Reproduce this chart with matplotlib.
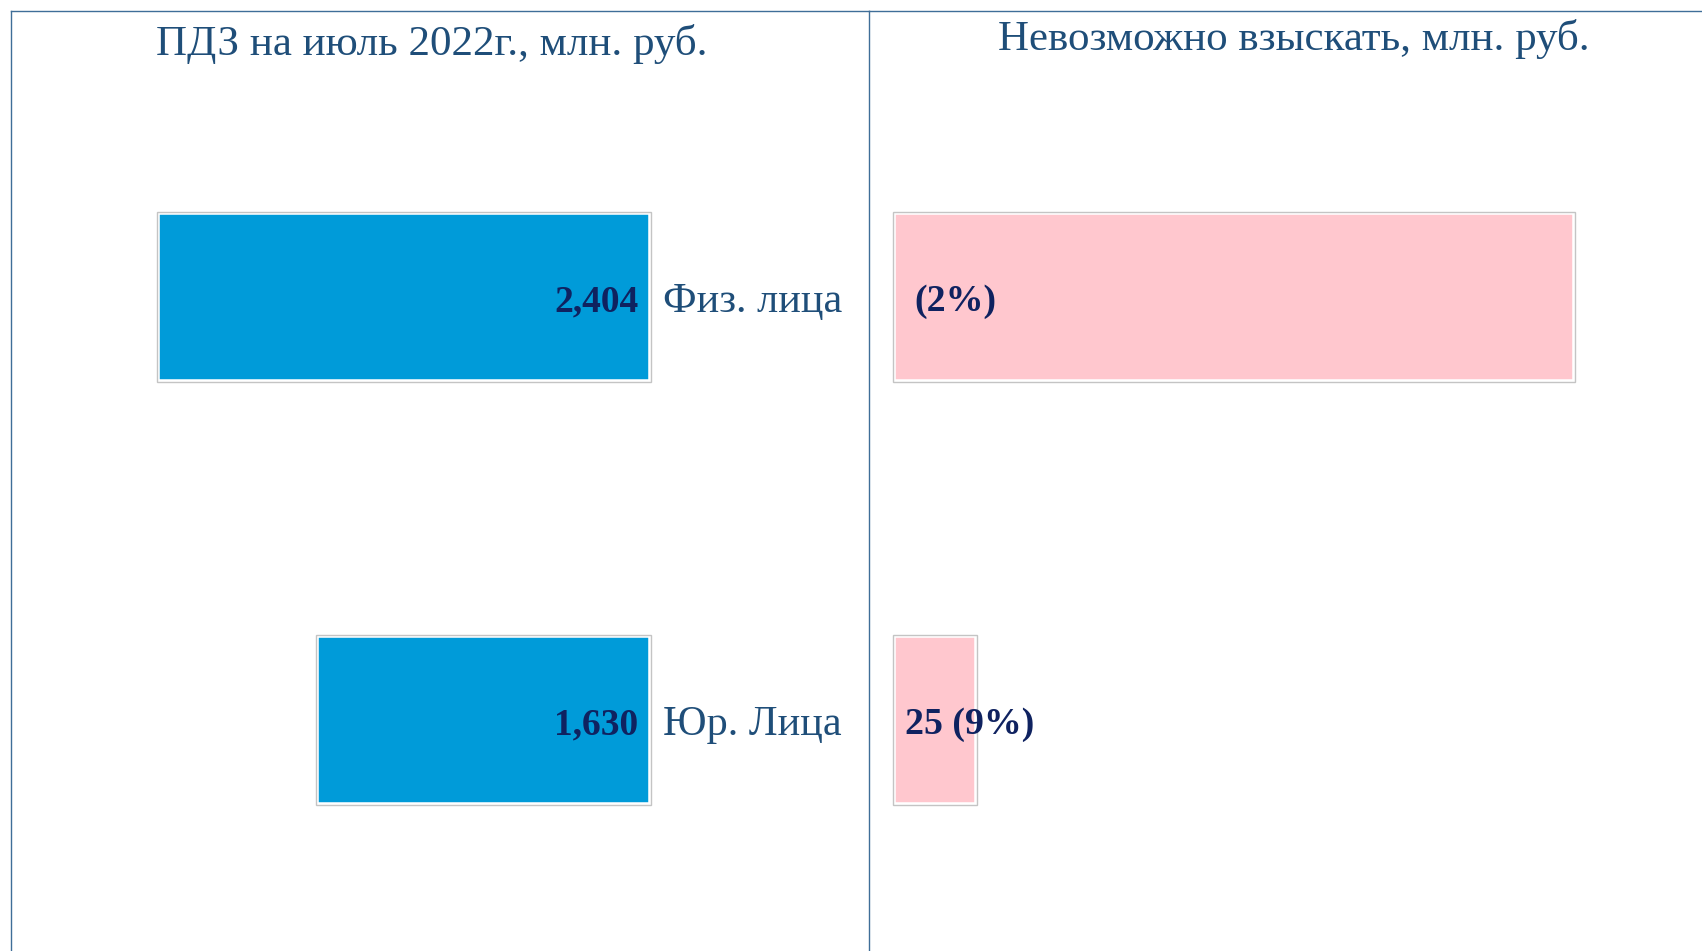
# ПДЗ vs невозможно взыскать - два горизонтальных барчарта
import matplotlib
matplotlib.use('Agg')
import matplotlib.pyplot as plt

plt.rcParams['font.family'] = ['Liberation Serif', 'DejaVu Serif']

# Datos
categories = ['Физ. лица', 'Юр. Лица']
pdz = [2404, 1630]                   # млн. руб.
writeoff = [203, 25]                 # ширина розовых столбцов
writeoff_labels = ['(2%)', '25 (9%)']

title_left = 'ПДЗ на июль 2022г., млн. руб.'
title_right = 'Невозможно взыскать, млн. руб.'

blue = '#009bd9'
pink = '#ffc7ce'
navy = '#0f2260'
text_col = '#1f4e79'
border = '#3f6e98'

W, H = 1702, 951
fig = plt.figure(figsize=(W / 100, H / 100), dpi=100)

ax1 = fig.add_axes([11 / W, 0, 858 / W, 940 / H])
ax2 = fig.add_axes([869 / W, 0, 833 / W, 940 / H])

y = [0, 1]
bh = 0.40

# panel izquierdo, barras hacia la izquierda
ax1.barh(y, pdz, height=bh, color=blue, edgecolor='white', linewidth=4)
ax1.barh(y, pdz, height=bh, facecolor='none', edgecolor='#c4c4c4', linewidth=1)
ax1.set_xlim(3114, -1061)
ax1.set_ylim(1.546, -0.676)
for yi, v, c in zip(y, pdz, categories):
    ax1.annotate(f'{v:,}', (0, yi), xytext=(-9, -3.5), textcoords='offset points',
                 ha='right', va='center', fontsize=27, fontweight='bold', color=navy)
    ax1.annotate(c, (0, yi), xytext=(9, -3.5), textcoords='offset points',
                 ha='left', va='center', fontsize=30.5, color=text_col)

# panel derecho
ax2.barh(y, writeoff, height=bh, color=pink, edgecolor='white', linewidth=4)
ax2.barh(y, writeoff, height=bh, facecolor='none', edgecolor='#c4c4c4', linewidth=1)
ax2.set_xlim(-7.14, 240.8)
ax2.set_ylim(1.546, -0.676)
offs = [15.5, 9]
for yi, lab, o in zip(y, writeoff_labels, offs):
    ax2.annotate(lab, (0, yi), xytext=(o, -3.5), textcoords='offset points',
                 ha='left', va='center', fontsize=27.3, fontweight='bold', color=navy)

for ax in (ax1, ax2):
    ax.set_xticks([])
    ax.set_yticks([])
    for s in ('right', 'bottom'):
        ax.spines[s].set_visible(False)
    for s in ('left', 'top'):
        ax.spines[s].set_color(border)
        ax.spines[s].set_linewidth(1)

ax1.text(0.49, 0.965, title_left, transform=ax1.transAxes, ha='center', va='center',
         fontsize=31, color=text_col)
ax2.text(0.51, 0.970, title_right, transform=ax2.transAxes, ha='center', va='center',
         fontsize=31, color=text_col)

fig.savefig('out.png', dpi=100)
